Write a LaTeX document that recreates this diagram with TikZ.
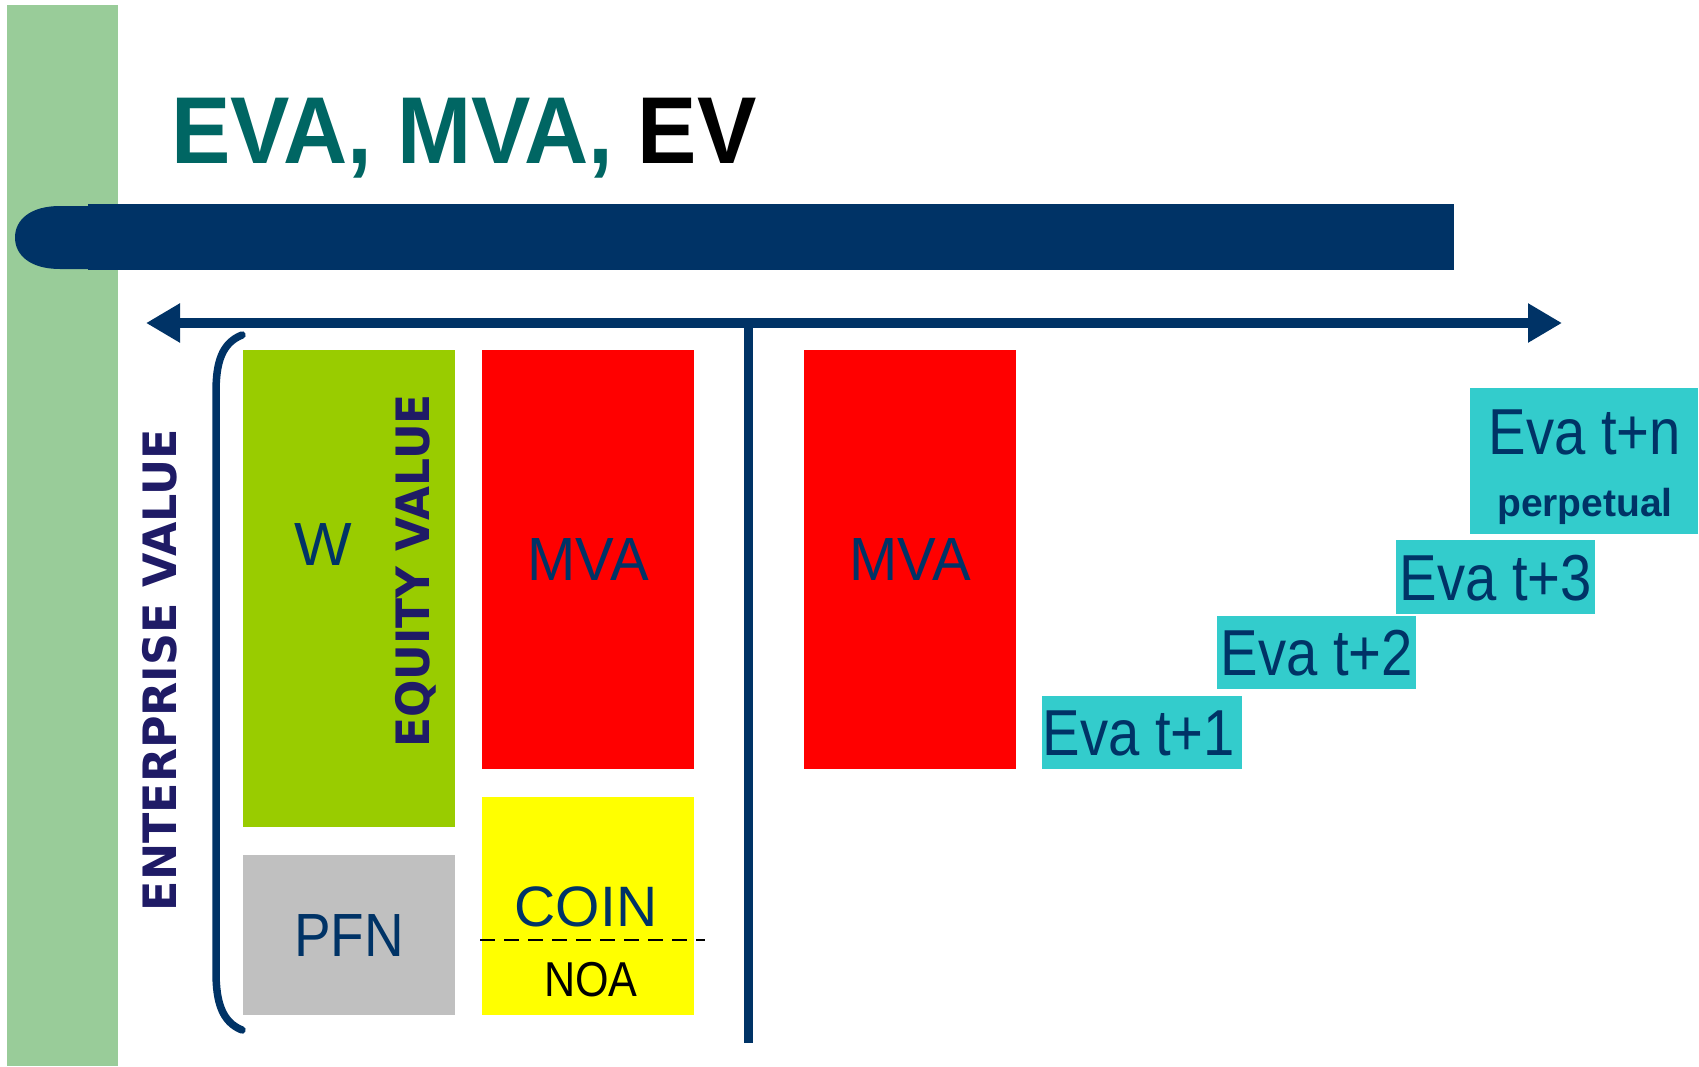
\documentclass[tikz,border=0pt]{standalone}
\usepackage{fontspec}
\setmainfont{Liberation Sans}
\newfontfamily\labelfont{DejaVu Sans}
\usetikzlibrary{arrows.meta}

\definecolor{sidegreen}{RGB}{153,204,153}
\definecolor{navy}{RGB}{0,51,102}
\definecolor{titleteal}{RGB}{0,102,99}
\definecolor{limegreen}{RGB}{153,204,0}
\definecolor{boxgrey}{RGB}{192,192,192}
\definecolor{boxred}{RGB}{255,0,0}
\definecolor{boxyellow}{RGB}{255,255,0}
\definecolor{boxcyan}{RGB}{51,204,204}
\definecolor{indigolabel}{RGB}{31,27,102}

\tikzset{
  block/.style={inner sep=0pt, outer sep=0pt, draw=none},
  boxtext/.style={inner sep=0pt, outer sep=0pt, text=navy, font=\fontsize{61}{70}\selectfont},
  evatext/.style={inner sep=0pt, outer sep=0pt, text=navy, font=\fontsize{65}{74}\selectfont},
  sidelabel/.style={inner sep=0pt, outer sep=0pt, text=indigolabel, rotate=90,
    font=\labelfont\fontsize{46}{54}\selectfont},
  navyline/.style={draw=navy, line cap=butt},
}

\begin{document}
\begin{tikzpicture}[x=1pt,y=-1pt]
  % page
  \fill[white] (0,0) rectangle (1699,1066);
  \useasboundingbox (0,0) rectangle (1699,1066);

  % left green band
  \fill[sidegreen] (7,5) rectangle (118,1066);

  % title
  \node[anchor=base west, inner sep=0pt] (title) at (171,163)
    {\scalebox{0.937}[1]{\fontsize{95}{104}\selectfont\bfseries
      \color{titleteal}EVA, MVA, \color{black}EV}};

  % header bar with rounded left end
  \fill[navy] (88,204) rectangle (1454,270);
  \fill[navy] (90,206) -- (60,206) .. controls (30,206) and (15,220) .. (15,237.5)
    .. controls (15,255) and (30,269) .. (60,269) -- (90,269) -- cycle;

  % time axis and the divider
  \coordinate (axisL) at (146,323);
  \coordinate (axisR) at (1562,323);
  \coordinate (divTop) at (748.5,323);
  \coordinate (divBot) at (748.5,1043);
  \draw[navyline, line width=10pt,
        {Triangle[length=34pt,width=37pt]}-{Triangle[length=34pt,width=37pt]}]
        (axisL) -- (axisR);
  \draw[navyline, line width=9pt] (divTop) -- (divBot);

  % bracket spanning the enterprise value
  \coordinate (brTop) at (242,335);
  \coordinate (brBot) at (242,1030);
  \draw[navyline, line width=7.5pt, line cap=round]
    (brTop) .. controls (222,343) and (216,362) .. (216,392)
    -- (216,972) .. controls (216,1002) and (222,1022) .. (brBot);

  % balance-sheet blocks
  \node[block, fill=limegreen, minimum width=212pt, minimum height=477pt] (wbox) at (349,588.5) {};
  \node[block, fill=boxgrey, minimum width=212pt, minimum height=160pt] (pfnbox) at (349,935) {};
  \node[block, fill=boxred, minimum width=212pt, minimum height=419pt] (mvaA) at (588,559.5) {};
  \node[block, fill=boxyellow, minimum width=212pt, minimum height=218pt] (coinbox) at (588,906) {};
  \node[block, fill=boxred, minimum width=212pt, minimum height=419pt] (mvaB) at (910,559.5) {};

  % block labels
  \node[boxtext] (wtxt) at (323,545) {W};
  \node[boxtext] (mvaAtxt) at (588,560) {\scalebox{0.95}[1]{MVA}};
  \node[boxtext] (mvaBtxt) at (910,560) {\scalebox{0.95}[1]{MVA}};
  \node[boxtext] (pfntxt) at (349,935) {\scalebox{0.9}[1]{PFN}};
  \node[boxtext, font=\fontsize{57}{66}\selectfont] (cointxt) at (586,907) {COIN};
  \node[inner sep=0pt, text=black, font=\fontsize{49}{56}\selectfont] (noatxt) at (591,980)
    {\scalebox{0.88}[1]{NOA}};
  \coordinate (fracL) at (480,940);
  \coordinate (fracR) at (705,940);
  \draw[black, line width=2.5pt, dash pattern=on 15pt off 9pt] (fracL) -- (fracR);

  % vertical captions
  \node[sidelabel] (evlabel) at (160,670) {\scalebox{0.965}[1]{\bfseries ENTERPRISE VALUE}};
  \node[sidelabel] (eqlabel) at (416,571) {\scalebox{0.955}[1]{\bfseries EQUITY VALUE}};

  % EVA staircase
  \node[block, fill=boxcyan, minimum width=200pt, minimum height=73pt] (eva1) at (1142,732.5) {};
  \node[block, fill=boxcyan, minimum width=199pt, minimum height=73pt] (eva2) at (1316.5,652.5) {};
  \node[block, fill=boxcyan, minimum width=199pt, minimum height=74pt] (eva3) at (1495.5,577) {};
  \node[block, fill=boxcyan, minimum width=228pt, minimum height=146pt] (evan) at (1584,461) {};

  \node[evatext] (eva1txt) at (1139,733) {\scalebox{0.865}[1]{Eva t+1}};
  \node[evatext] (eva2txt) at (1317,653) {\scalebox{0.865}[1]{Eva t+2}};
  \node[evatext] (eva3txt) at (1496,578) {\scalebox{0.865}[1]{Eva t+3}};
  \node[evatext] (evantxt) at (1585,432) {\scalebox{0.865}[1]{Eva t+n}};
  \node[inner sep=0pt, anchor=base, text=navy, font=\fontsize{39}{45}\selectfont\bfseries]
    (perptxt) at (1585,516) {perpetual};
\end{tikzpicture}
\end{document}
